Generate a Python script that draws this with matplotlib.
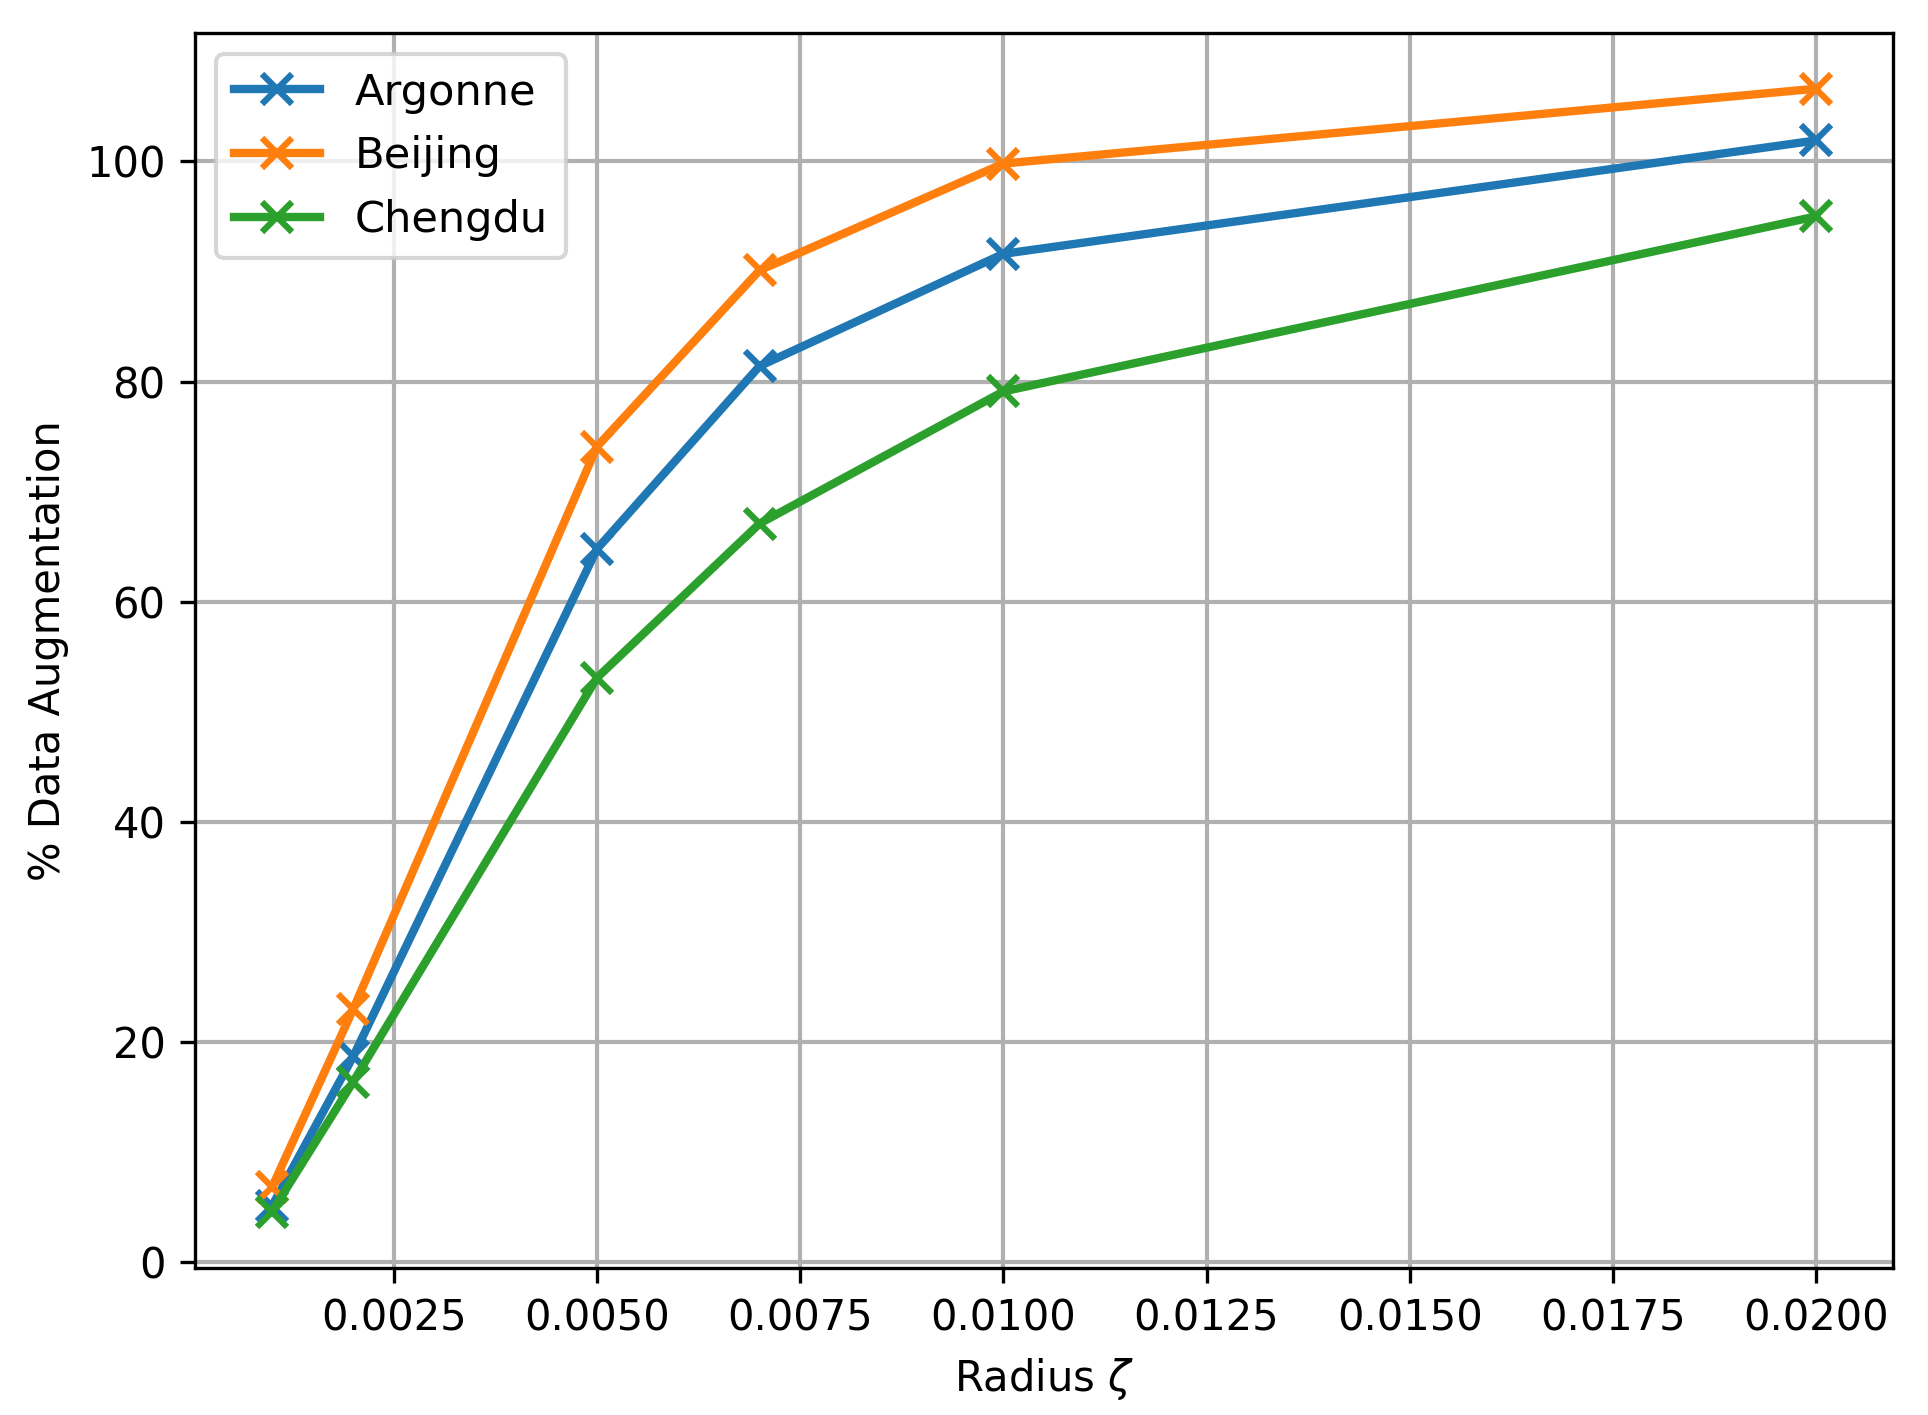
import matplotlib
matplotlib.use("Agg")
import matplotlib.pyplot as plt

# radius values and augmentation percentages per site
radius = [0.001, 0.002, 0.005, 0.007, 0.01, 0.02]
argonne = [5.1, 18.7, 64.8, 81.4, 91.6, 101.9]
beijing = [6.8, 23.0, 74.1, 90.1, 99.8, 106.6]
chengdu = [4.6, 16.4, 53.1, 67.1, 79.1, 95.0]

plt.rcParams['font.size'] = 10

fig = plt.figure(figsize=(1928/300, 1415/300), dpi=300)
ax = fig.add_subplot(111)
fig.subplots_adjust(left=0.101, right=0.982, top=0.977, bottom=0.104)

ax.plot(radius, argonne, marker='x', lw=2, ms=7, mew=1.5, label='Argonne')
ax.plot(radius, beijing, marker='x', lw=2, ms=7, mew=1.5, label='Beijing')
ax.plot(radius, chengdu, marker='x', lw=2, ms=7, mew=1.5, label='Chengdu')

ax.set_xlabel(r'Radius $\zeta$')
ax.set_ylabel('% Data Augmentation')
ax.grid(True, lw=1)
ax.legend(loc='upper left', fontsize=10.4)

fig.savefig('out.png', dpi=300)
